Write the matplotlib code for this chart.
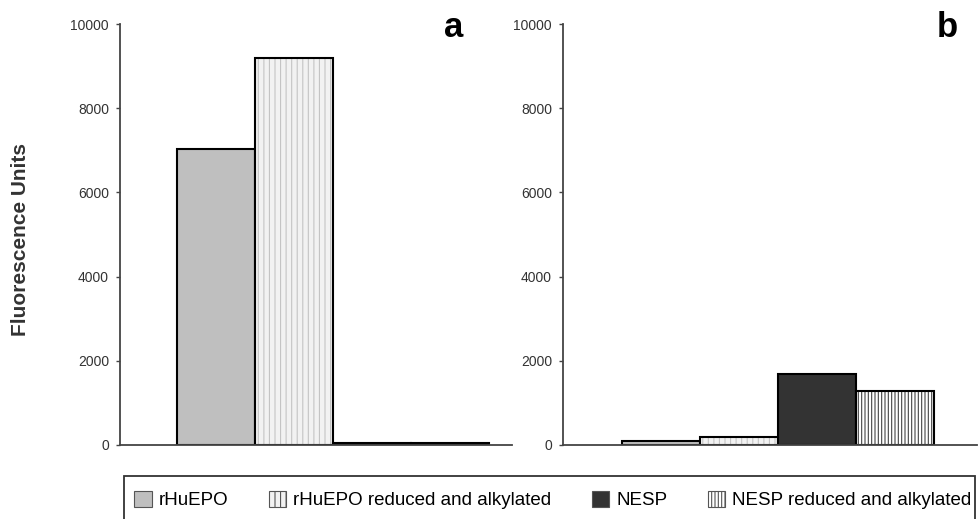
import matplotlib.pyplot as plt
from matplotlib.patches import Patch, Rectangle

plt.rcParams['font.family'] = ['Liberation Sans', 'DejaVu Sans']
plt.rcParams['hatch.linewidth'] = 0.8

series = ['rHuEPO', 'rHuEPO reduced and alkylated', 'NESP', 'NESP reduced and alkylated']
panel_a = [7020, 9200, 40, 40]
panel_b = [90, 200, 1680, 1275]
yticks = [0, 2000, 4000, 6000, 8000, 10000]

# fill colour, hatch, hatch colour
styles = [('#bfbfbf', '', '#bfbfbf'),
          ('#f2f2f2', '|||', '#c4c4c4'),
          ('#333333', '', '#333333'),
          ('#ffffff', '|||||', '#444444')]

W, H = 980, 519
fig = plt.figure(figsize=(9.8, 5.19), dpi=100)
ax_a = fig.add_axes([120/W, 1-445/H, 392/W, 421/H])
ax_b = fig.add_axes([563/W, 1-445/H, 414/W, 421/H])


def draw(ax, vals, xl):
    for i, v in enumerate(vals):
        fc, h, hc = styles[i]
        ax.bar(i, v, width=1, align='edge', color=fc, hatch=h, edgecolor=hc, linewidth=0)
        ax.bar(i, v, width=1, align='edge', fill=False, edgecolor='black', linewidth=1.5)
    ax.set_xlim(xl)
    ax.set_ylim(0, 10000)
    ax.set_yticks(yticks)
    ax.set_xticks([])
    for s in ['top', 'right']:
        ax.spines[s].set_visible(False)
    for s in ['left', 'bottom']:
        ax.spines[s].set_color('#444444')
        ax.spines[s].set_linewidth(1.3)
    ax.tick_params(axis='y', length=3, width=1, color='#444444', labelsize=10,
                   labelcolor='#333333', pad=5)


draw(ax_a, panel_a, (-0.73, 4.3))
draw(ax_b, panel_b, (-0.76, 4.55))

fig.text(463/W, 1-37/H, 'a', fontsize=25, fontweight='bold', ha='right', va='baseline')
fig.text(958/W, 1-37/H, 'b', fontsize=25, fontweight='bold', ha='right', va='baseline')

fig.text(21/W, 1-240/H, 'Fluorescence Units', rotation=90, fontsize=15,
         fontweight='bold', ha='center', va='center', color='#333333')

# legend box, runs off the bottom of the picture
fig.add_artist(Rectangle((124/W, -10/H), 851/W, (H-476+10)/H, transform=fig.transFigure,
                         fill=False, edgecolor='#333333', linewidth=1.3))

handles = [Patch(facecolor=fc, hatch=h, edgecolor=hc, linewidth=0.8) for fc, h, hc in styles]
leg = fig.legend(handles, series, loc='center left', ncol=4,
                 bbox_to_anchor=(134/W, 1-500/H), frameon=False, fontsize=13.5,
                 handlelength=0.95, handleheight=0.95, handletextpad=0.37,
                 columnspacing=2.14, borderpad=0, borderaxespad=0)
for p in leg.get_patches():
    p.set_edgecolor('#555555')

fig.savefig('out.png', dpi=100)
